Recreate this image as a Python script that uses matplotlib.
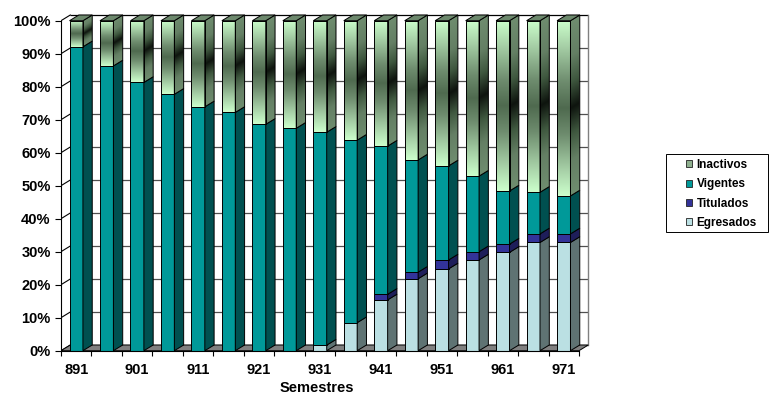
import numpy as np
import matplotlib
matplotlib.use('Agg')
import matplotlib.pyplot as plt
from matplotlib.patches import Polygon, Rectangle, Patch
from matplotlib.colors import to_rgb

plt.rcParams['font.family'] = ['Liberation Sans', 'DejaVu Sans']
plt.rcParams['font.weight'] = 'bold'

semestres = ['891', '892', '901', '902', '911', '912', '921', '922', '931',
             '932', '941', '942', '951', '952', '961', '962', '971']
egresados = [0, 0, 0, 0, 0, 0, 0, 0, 1.7, 8.5, 15.4, 21.8, 24.8, 27.5, 29.8, 32.8, 32.8]
titulados = [0, 0, 0, 0, 0, 0, 0, 0, 0, 0, 1.7, 2.0, 2.7, 2.5, 2.5, 2.6, 2.6]
vigentes = [92.1, 86.3, 81.3, 77.7, 73.9, 72.2, 68.6, 67.4, 64.5, 55.3, 44.9, 34.0,
            28.5, 22.9, 16.1, 12.6, 11.5]
inactivos = [7.9, 13.7, 18.7, 22.3, 26.1, 27.8, 31.4, 32.6, 33.8, 36.2, 38.0, 42.2,
             44.0, 47.1, 51.6, 52.0, 53.1]
y_ticks = [0, 10, 20, 30, 40, 50, 60, 70, 80, 90, 100]

W, H = 776, 394
fig = plt.figure(figsize=(W / 100, H / 100), dpi=100)
cat_px = 518 / 17
pct_px = 3.3
ax = fig.add_axes([61 / W, 43.3 / H, cat_px * 17.5 / W, pct_px * 104 / H])
ax.set_xlim(-0.5, 17.0)
ax.set_ylim(0, 104)
ax.set_facecolor('none')

dxc = 9.3 / cat_px
dyc = 5.7 / pct_px
n = len(semestres)
bw = 0.44

# walls / floor
gridc = '#505050'
for v in y_ticks:
    ax.plot([-0.5 + dxc, n - 0.5 + dxc], [v + dyc, v + dyc], color=gridc if v < 100 else 'k',
            lw=0.9, zorder=0.5, solid_capstyle='butt')
    ax.plot([-0.5, -0.5 + dxc], [v, v + dyc], color='k', lw=0.8, zorder=0.5)
ax.plot([n - 0.5 + dxc, n - 0.5 + dxc], [dyc, 100 + dyc], color='#808080', lw=1.0, zorder=0.5)
ax.add_patch(Polygon([(-0.5, 0), (n - 0.5, 0), (n - 0.5 + dxc, dyc), (-0.5 + dxc, dyc)],
                     closed=True, facecolor='#808080', edgecolor='k', lw=0.7, zorder=1))


def lerp_stops(d, stops):
    pos = [s[0] for s in stops]
    cols = np.array([to_rgb(s[1]) for s in stops])
    return np.stack([np.interp(d, pos, cols[:, k]) for k in range(3)], axis=-1)


front_stops = [(0.0, '#4f6a4f'), (0.3, '#6e8c6e'), (0.7, '#a6cfa6'), (1.0, '#ccffcc')]
side_stops = [(0.0, '#0e140e'), (0.3, '#3f583f'), (0.6, '#647f64'), (1.0, '#6f8d6f')]

series = [
    (egresados, '#bbe0e3', '#5f7373'),
    (titulados, '#333399', '#1e1e5a'),
    (vigentes, '#009999', '#005050'),
    (inactivos, None, None),
]

for i in range(n):
    total = egresados[i] + titulados[i] + vigentes[i] + inactivos[i]
    xl, xr = i - bw / 2, i + bw / 2
    y0 = 0.0
    for vals, fc, sc in series:
        h = vals[i] / total * 100
        if h <= 0:
            continue
        y1 = y0 + h
        side_pts = [(xr, y0), (xr + dxc, y0 + dyc), (xr + dxc, y1 + dyc), (xr, y1)]
        if fc is not None:
            ax.bar(i, h, bottom=y0, width=bw, color=fc, edgecolor='k', lw=0.7, zorder=3)
            ax.add_patch(Polygon(side_pts, closed=True, facecolor=sc, edgecolor='k',
                                 lw=0.7, zorder=3))
        else:
            bars = ax.bar(i, h, bottom=y0, width=bw, color='none', edgecolor='k', lw=0.7, zorder=3.2)
            t = np.linspace(0, 1, 300)
            d = np.clip(np.abs(t - 0.5) * 2, 0, 1)
            img = lerp_stops(d, front_stops)[:, None, :]
            im = ax.imshow(img, extent=(xl, xr, y0, y1), origin='lower', aspect='auto',
                           interpolation='bilinear', zorder=3)
            im.set_clip_path(bars[0])
            p = Polygon(side_pts, closed=True, facecolor='none', edgecolor='k', lw=0.7, zorder=3.2)
            ax.add_patch(p)
            yy = np.linspace(y0, y1 + dyc, 300)[:, None]
            uu = np.linspace(0, 1, 20)[None, :]
            tt = (yy - y0 - uu * dyc) / (y1 - y0)
            dd = np.clip(np.abs(tt - 0.5) * 2, 0, 1)
            img2 = lerp_stops(dd, side_stops)
            im2 = ax.imshow(img2, extent=(xr, xr + dxc, y0, y1 + dyc), origin='lower',
                            aspect='auto', interpolation='bilinear', zorder=3)
            im2.set_clip_path(p)
            ax.add_patch(Polygon([(xl, y1), (xl + dxc, y1 + dyc), (xr + dxc, y1 + dyc), (xr, y1)],
                                 closed=True, facecolor='#6c886c', edgecolor='k', lw=0.7, zorder=3.2))
        y0 = y1

ax.set_xlim(-0.5, 17.0)
ax.set_ylim(0, 104)

for s in ['top', 'right']:
    ax.spines[s].set_visible(False)
ax.spines['left'].set_bounds(0, 100)
ax.spines['bottom'].set_bounds(-0.5, n - 0.5)
ax.spines['left'].set_linewidth(0.8)
ax.spines['bottom'].set_linewidth(0.8)
ax.spines['bottom'].set_zorder(4)

ax.set_xticks(range(0, n, 2))
ax.set_xticklabels(semestres[::2], fontsize=10.5, fontweight='bold')
ax.set_xticks(np.arange(-0.5, n, 1), minor=True)
ax.tick_params(axis='x', which='major', length=0, pad=8.5)
ax.tick_params(axis='x', which='minor', length=3.5, width=0.8, direction='out')
ax.set_yticks(y_ticks)
ax.set_yticklabels([f'{v}%' for v in y_ticks], fontsize=10.5, fontweight='bold')
ax.tick_params(axis='y', which='major', length=4.5, width=0.8, pad=3)

fig.text(317 / W, 1 - 388 / H, 'Semestres', ha='center', va='center', fontsize=10.5,
         fontweight='bold')

handles = [
    Patch(facecolor='#8fb08f', edgecolor='#222222', lw=0.6, label='Inactivos'),
    Patch(facecolor='#009999', edgecolor='#222222', lw=0.6, label='Vigentes'),
    Patch(facecolor='#333399', edgecolor='#222222', lw=0.6, label='Titulados'),
    Patch(facecolor='#bbe0e3', edgecolor='#222222', lw=0.6, label='Egresados'),
]
fig.legend(handles=handles, loc='upper left', bbox_to_anchor=(686 / W, 1 - 159 / H),
           frameon=False, prop={'size': 8.5, 'weight': 'bold'}, handlelength=0.55,
           handleheight=0.55, handletextpad=0.35, labelspacing=0.62, borderpad=0,
           borderaxespad=0)
fig.add_artist(Rectangle((666 / W, 1 - 232 / H), 102 / W, 78 / H, transform=fig.transFigure,
                         fill=False, edgecolor='k', lw=0.7))

fig.savefig('out.png', dpi=100)
